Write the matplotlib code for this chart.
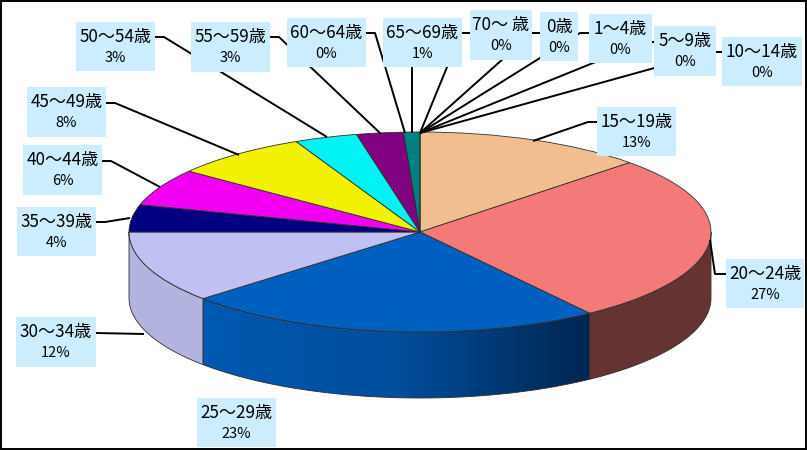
import numpy as np
import matplotlib
matplotlib.use('Agg')
import matplotlib.pyplot as plt
from matplotlib.patches import Polygon, Rectangle
from matplotlib.transforms import Affine2D
from matplotlib.colors import LinearSegmentedColormap

plt.rcParams['font.family'] = ['Noto Sans CJK JP', 'DejaVu Sans']

# data, in slice order (clockwise from the top)
ages = ['0歳', '1～4歳', '5～9歳', '10～14歳', '15～19歳', '20～24歳', '25～29歳', '30～34歳',
        '35～39歳', '40～44歳', '45～49歳', '50～54歳', '55～59歳', '60～64歳', '65～69歳', '70～ 歳']
percents = [0, 0, 0, 0, 13, 27, 23, 12, 4, 6, 8, 3, 3, 0, 1, 0]
# shares read from the slice edges, a bit finer than the printed labels
shares = [0, 0, 0, 0, 12.8, 27.3, 23.3, 11.6, 4.4, 6.0, 7.6, 3.5, 2.6, 0, 0.9, 0]

top_colors = ['#FFFFFF', '#FFFFFF', '#FFFFFF', '#FFFFFF', '#F2BE90', '#F47A7A', '#0060C0', '#C0C0F2',
              '#000080', '#F200F2', '#F2F200', '#00F2F2', '#800080', '#FF0000', '#008080', '#0000FF']
side_colors = {4: '#79603F', 5: '#663333', 7: '#B3B3E0'}

# pie geometry in pixels
cx, cy = 420, 232
rx, ry = 291, 100
depth = 66

# label box: left, top, right, bottom
boxes = {
    '0歳': (540, 12, 578, 61), '1～4歳': (589, 14, 652, 63), '5～9歳': (654, 26, 716, 76),
    '10～14歳': (722, 37, 802, 86), '15～19歳': (597, 107, 676, 156), '20～24歳': (726, 259, 804, 308),
    '25～29歳': (197, 398, 276, 447), '30～34歳': (16, 317, 96, 367), '35～39歳': (17, 207, 96, 256),
    '40～44歳': (23, 145, 102, 195), '45～49歳': (27, 87, 106, 137), '50～54歳': (76, 22, 155, 71),
    '55～59歳': (191, 22, 270, 72), '60～64歳': (287, 18, 366, 67), '65～69歳': (383, 18, 462, 67),
    '70～ 歳': (470, 10, 532, 60),
}

leaders = [
    [(540, 33), (532, 33), (420, 133)],
    [(589, 33), (580, 33), (420, 133)],
    [(654, 42), (645, 42), (420, 133)],
    [(722, 52), (712, 52), (420, 133)],
    [(597, 122), (588, 122), (533, 141)],
    [(727, 274), (715, 274), (710, 240)],
    [(96, 333), (144, 334)],
    [(96, 222), (105, 222), (130, 218)],
    [(102, 161), (111, 161), (160, 187)],
    [(106, 103), (115, 103), (239, 155)],
    [(155, 37), (164, 37), (327, 137)],
    [(270, 37), (279, 37), (381, 134)],
    [(366, 33), (375, 33), (405, 133)],
    [(412, 60), (412, 133)],
    [(470, 33), (461, 33), (420, 133)],
]


def wall_points(start, end):
    # start, end in degrees clockwise from the top
    t = np.radians(np.linspace(start, end, 80))
    x = cx + rx * np.sin(t)
    y = cy - ry * np.cos(t)
    upper = np.column_stack([x, y])
    lower = np.column_stack([x, y + depth])[::-1]
    return np.vstack([upper, lower])


fig = plt.figure(figsize=(8.07, 4.5), dpi=100)
ax = fig.add_axes([0, 0, 1, 1])

wedges, _ = ax.pie(shares, colors=top_colors, startangle=90, counterclock=False,
                   wedgeprops=dict(edgecolor='#303030', linewidth=0.6))
squash = Affine2D().scale(rx, -ry).translate(cx, cy) + ax.transData
for w in wedges:
    w.set_transform(squash)
    w.set_zorder(3)

ax.set_aspect('auto')
ax.axis('off')

# side walls, only the front half of the disc shows
edges = np.concatenate([[0], np.cumsum(shares)]) * 3.6
for i, share in enumerate(shares):
    start, end = max(edges[i], 90), min(edges[i + 1], 270)
    if share == 0 or end <= start:
        continue
    pts = wall_points(start, end)
    if i == 6:
        # the blue wall is shaded from left to right
        outline = Polygon(pts, closed=True, facecolor='none', edgecolor='#303030', linewidth=0.6, zorder=2)
        ax.add_patch(outline)
        cmap = LinearSegmentedColormap.from_list('wall', ['#0058B0', '#004E9C', '#002650'])
        im = ax.imshow(np.linspace(0, 1, 256).reshape(1, -1), cmap=cmap, aspect='auto', zorder=1,
                       extent=(pts[:, 0].min(), pts[:, 0].max(), pts[:, 1].max(), pts[:, 1].min()))
        im.set_clip_path(outline)
    else:
        ax.add_patch(Polygon(pts, closed=True, facecolor=side_colors[i], edgecolor='#303030',
                             linewidth=0.6, zorder=2))
ax.set_xlim(0, 807)
ax.set_ylim(450, 0)

# leader lines run under the boxes
for line in leaders:
    xs, ys = zip(*line)
    ax.plot(xs, ys, color='black', linewidth=1.4, zorder=4, solid_capstyle='butt')

for age, pct in zip(ages, percents):
    x0, y0, x1, y1 = boxes[age]
    ax.add_patch(Rectangle((x0, y0), x1 - x0, y1 - y0, facecolor='#CCECFF', edgecolor='none', zorder=5))
    xm = (x0 + x1) / 2
    ax.text(xm, y0 + 15, age, fontsize=12.3, ha='center', va='center', zorder=6)
    ax.text(xm, y0 + 36, f'{pct}%', fontsize=10.5, ha='center', va='center', zorder=6)

# outer frame
ax.add_patch(Rectangle((0.5, 0.5), 805.5, 448.5, facecolor='none', edgecolor='black', linewidth=1.4,
                       zorder=7, clip_on=False))

fig.savefig('out.png', dpi=100)
